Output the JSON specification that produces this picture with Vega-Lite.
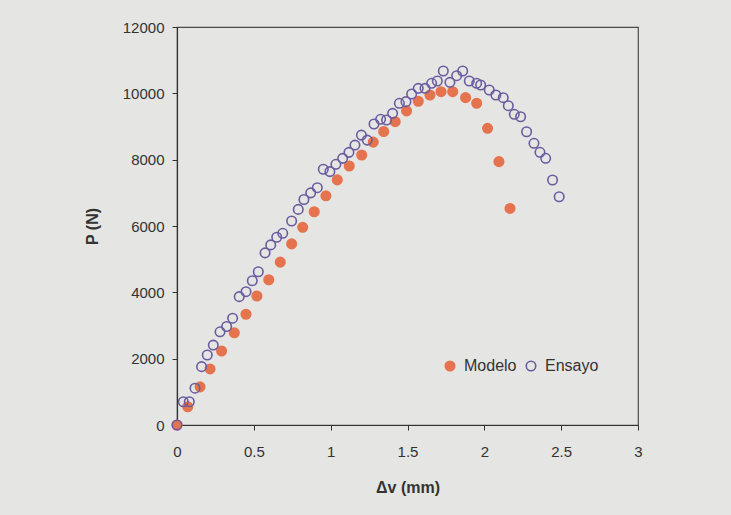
{
  "$schema": "https://vega.github.io/schema/vega-lite/v6.json",
  "width": 461,
  "height": 398,
  "autosize": {"type": "none"},
  "padding": {"left": 177, "top": 27, "right": 93, "bottom": 90},
  "background": "#e5e5e3",
  "config": {
    "view": {"stroke": "#4a4a4a", "strokeWidth": 1.2, "fill": "#e5e5e3"},
    "font": "Liberation Sans",
    "axis": {"grid": false, "labelFlush": false, "domainColor": "#333", "tickColor": "#333", "labelColor": "#333", "titleColor": "#333", "labelFontSize": 15, "titleFontSize": 16, "titleFontWeight": "bold", "tickSize": 5, "domainWidth": 1.2}
  },
  "data": {"values": [
    {"s":"Modelo","x":0,"p":0},
    {"s":"Modelo","x":0.07,"p":550},
    {"s":"Modelo","x":0.15,"p":1150},
    {"s":"Modelo","x":0.215,"p":1690},
    {"s":"Modelo","x":0.29,"p":2230},
    {"s":"Modelo","x":0.373,"p":2780},
    {"s":"Modelo","x":0.449,"p":3340},
    {"s":"Modelo","x":0.52,"p":3890},
    {"s":"Modelo","x":0.597,"p":4380},
    {"s":"Modelo","x":0.672,"p":4910},
    {"s":"Modelo","x":0.746,"p":5460},
    {"s":"Modelo","x":0.818,"p":5960},
    {"s":"Modelo","x":0.893,"p":6430},
    {"s":"Modelo","x":0.969,"p":6910},
    {"s":"Modelo","x":1.043,"p":7390},
    {"s":"Modelo","x":1.121,"p":7810},
    {"s":"Modelo","x":1.202,"p":8140},
    {"s":"Modelo","x":1.277,"p":8530},
    {"s":"Modelo","x":1.345,"p":8850},
    {"s":"Modelo","x":1.42,"p":9145},
    {"s":"Modelo","x":1.494,"p":9470},
    {"s":"Modelo","x":1.57,"p":9760},
    {"s":"Modelo","x":1.646,"p":9950},
    {"s":"Modelo","x":1.718,"p":10050},
    {"s":"Modelo","x":1.794,"p":10050},
    {"s":"Modelo","x":1.878,"p":9870},
    {"s":"Modelo","x":1.95,"p":9700},
    {"s":"Modelo","x":2.021,"p":8945},
    {"s":"Modelo","x":2.095,"p":7940},
    {"s":"Modelo","x":2.167,"p":6530},
    {"s":"Ensayo","x":0,"p":0},
    {"s":"Ensayo","x":0.041,"p":700},
    {"s":"Ensayo","x":0.08,"p":700},
    {"s":"Ensayo","x":0.117,"p":1110},
    {"s":"Ensayo","x":0.16,"p":1760},
    {"s":"Ensayo","x":0.197,"p":2110},
    {"s":"Ensayo","x":0.236,"p":2410},
    {"s":"Ensayo","x":0.28,"p":2810},
    {"s":"Ensayo","x":0.323,"p":2970},
    {"s":"Ensayo","x":0.362,"p":3220},
    {"s":"Ensayo","x":0.405,"p":3870},
    {"s":"Ensayo","x":0.449,"p":4020},
    {"s":"Ensayo","x":0.49,"p":4350},
    {"s":"Ensayo","x":0.529,"p":4620},
    {"s":"Ensayo","x":0.573,"p":5190},
    {"s":"Ensayo","x":0.61,"p":5430},
    {"s":"Ensayo","x":0.649,"p":5660},
    {"s":"Ensayo","x":0.688,"p":5780},
    {"s":"Ensayo","x":0.746,"p":6150},
    {"s":"Ensayo","x":0.789,"p":6500},
    {"s":"Ensayo","x":0.826,"p":6800},
    {"s":"Ensayo","x":0.87,"p":7000},
    {"s":"Ensayo","x":0.913,"p":7155},
    {"s":"Ensayo","x":0.952,"p":7710},
    {"s":"Ensayo","x":0.995,"p":7640},
    {"s":"Ensayo","x":1.034,"p":7860},
    {"s":"Ensayo","x":1.078,"p":8040},
    {"s":"Ensayo","x":1.119,"p":8220},
    {"s":"Ensayo","x":1.158,"p":8440},
    {"s":"Ensayo","x":1.2,"p":8740},
    {"s":"Ensayo","x":1.238,"p":8590},
    {"s":"Ensayo","x":1.282,"p":9075},
    {"s":"Ensayo","x":1.325,"p":9217},
    {"s":"Ensayo","x":1.364,"p":9196},
    {"s":"Ensayo","x":1.403,"p":9397},
    {"s":"Ensayo","x":1.447,"p":9699},
    {"s":"Ensayo","x":1.49,"p":9749},
    {"s":"Ensayo","x":1.527,"p":9980},
    {"s":"Ensayo","x":1.57,"p":10151},
    {"s":"Ensayo","x":1.614,"p":10151},
    {"s":"Ensayo","x":1.657,"p":10302},
    {"s":"Ensayo","x":1.694,"p":10372},
    {"s":"Ensayo","x":1.733,"p":10673},
    {"s":"Ensayo","x":1.776,"p":10332},
    {"s":"Ensayo","x":1.82,"p":10532},
    {"s":"Ensayo","x":1.859,"p":10673},
    {"s":"Ensayo","x":1.902,"p":10372},
    {"s":"Ensayo","x":1.95,"p":10302},
    {"s":"Ensayo","x":1.976,"p":10251},
    {"s":"Ensayo","x":2.032,"p":10100},
    {"s":"Ensayo","x":2.075,"p":9950},
    {"s":"Ensayo","x":2.123,"p":9869},
    {"s":"Ensayo","x":2.156,"p":9627},
    {"s":"Ensayo","x":2.195,"p":9368},
    {"s":"Ensayo","x":2.236,"p":9295},
    {"s":"Ensayo","x":2.275,"p":8843},
    {"s":"Ensayo","x":2.323,"p":8493},
    {"s":"Ensayo","x":2.362,"p":8222},
    {"s":"Ensayo","x":2.399,"p":8041},
    {"s":"Ensayo","x":2.444,"p":7387},
    {"s":"Ensayo","x":2.487,"p":6883}
  ]},
  "mark": {"type": "point", "shape": "circle", "size": 90, "strokeWidth": 1.6, "opacity": 1},
  "encoding": {
    "x": {"field": "x", "type": "quantitative", "scale": {"domain": [0, 3], "nice": false},
      "axis": {"values": [0, 0.5, 1, 1.5, 2, 2.5, 3], "format": ".1~f", "title": "Δv (mm)", "labelPadding": 14, "titlePadding": 20}},
    "y": {"field": "p", "type": "quantitative", "scale": {"domain": [0, 12000], "nice": false},
      "axis": {"values": [0, 2000, 4000, 6000, 8000, 10000, 12000], "format": "d", "title": "P (N)", "labelPadding": 8, "titlePadding": 22}},
    "fill": {"field": "s", "type": "nominal", "sort": ["Modelo", "Ensayo"],
      "scale": {"domain": ["Modelo", "Ensayo"], "range": ["#e5734e", "transparent"]},
      "legend": {"title": null, "orient": "none", "legendX": 265, "legendY": 331, "direction": "horizontal", "labelFontSize": 16, "labelColor": "#333", "symbolSize": 90, "symbolStrokeWidth": 1.6, "columnPadding": 6, "labelOffset": 6}},
    "stroke": {"field": "s", "type": "nominal", "sort": ["Modelo", "Ensayo"],
      "scale": {"domain": ["Modelo", "Ensayo"], "range": ["#e5734e", "#6a5c9e"]},
      "legend": {"title": null, "orient": "none", "legendX": 265, "legendY": 331, "direction": "horizontal", "labelFontSize": 16, "labelColor": "#333", "symbolSize": 90, "symbolStrokeWidth": 1.6, "columnPadding": 6, "labelOffset": 6}},
    "order": {"field": "s", "sort": "descending"}
  }
}
